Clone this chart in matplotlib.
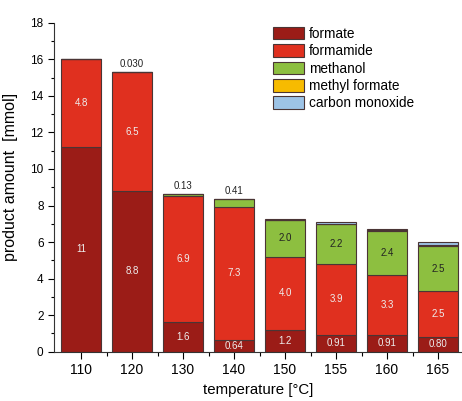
import numpy as np
import matplotlib
matplotlib.use("Agg")
from matplotlib import pyplot as plt

plt.rcParams['font.family'] = ['Liberation Sans', 'DejaVu Sans']

# product amounts in mmol for each reaction temperature
temperatures = ['110', '120', '130', '140', '150', '155', '160', '165']
formate = [11.2, 8.8, 1.6, 0.64, 1.2, 0.91, 0.91, 0.80]
formamide = [4.8, 6.5, 6.9, 7.3, 4.0, 3.9, 3.3, 2.5]
methanol = [0.0, 0.030, 0.13, 0.41, 2.0, 2.2, 2.4, 2.5]
methyl_formate = [0.0, 0.0, 0.0, 0.0, 0.0, 0.0, 0.05, 0.03]
carbon_monoxide = [0.0, 0.0, 0.0, 0.0, 0.07, 0.08, 0.08, 0.15]

formate_labels = ['11', '8.8', '1.6', '0.64', '1.2', '0.91', '0.91', '0.80']
formamide_labels = ['4.8', '6.5', '6.9', '7.3', '4.0', '3.9', '3.3', '2.5']
methanol_labels = ['', '0.030', '0.13', '0.41', '2.0', '2.2', '2.4', '2.5']

series = [
    ('formate', formate, '#9b1c17'),
    ('formamide', formamide, '#e0301f'),
    ('methanol', methanol, '#8dbf40'),
    ('methyl formate', methyl_formate, '#f7bb00'),
    ('carbon monoxide', carbon_monoxide, '#9dc3e6'),
]

fig = plt.figure(figsize=(4.62, 4.01), dpi=100)
ax = fig.add_axes([0.1169, 0.123, 0.8831, 0.820])

x = np.arange(len(temperatures))
bottom = np.zeros(len(temperatures))
for name, vals, color in series:
    vals = np.array(vals)
    ax.bar(x, vals, 0.8, bottom=bottom, color=color,
           edgecolor='#4a3535', linewidth=0.8, label=name)
    bottom = bottom + vals
totals = bottom

# value labels inside the segments (small methanol amounts go on top)
for i in range(len(x)):
    ax.text(x[i], formate[i] / 2, formate_labels[i], ha='center', va='center',
            fontsize=7, color='#eeeeee')
    ax.text(x[i], formate[i] + formamide[i] / 2, formamide_labels[i],
            ha='center', va='center', fontsize=7, color='#eeeeee')
    if methanol[i] >= 1:
        ax.text(x[i], formate[i] + formamide[i] + methanol[i] / 2,
                methanol_labels[i], ha='center', va='center',
                fontsize=7, color='#222222')
    elif methanol_labels[i]:
        ax.text(x[i], totals[i] + 0.15, methanol_labels[i], ha='center',
                va='bottom', fontsize=7, color='#222222')

ax.set_xlim(-0.53, 7.47)
ax.set_ylim(0, 18)
ax.set_xticks(x)
ax.set_xticklabels(temperatures)
ax.set_xticks(x[:-1] + 0.5, minor=True)
ax.set_yticks(np.arange(0, 19, 2))
ax.set_yticks(np.arange(1, 18, 2), minor=True)
ax.tick_params(axis='x', which='major', labelsize=10, length=5, width=0.8)
ax.tick_params(axis='x', which='minor', length=3, width=0.8)
ax.tick_params(axis='y', which='major', labelsize=8.5, length=4, width=0.8)
ax.tick_params(axis='y', which='minor', length=2.5, width=0.8)
for side in ['top', 'right']:
    ax.spines[side].set_visible(False)
for side in ['left', 'bottom']:
    ax.spines[side].set_linewidth(0.8)
    ax.spines[side].set_color('#333333')

ax.set_xlabel('temperature [°C]', fontsize=10.8, labelpad=4)
ax.set_ylabel('product amount  [mmol]', fontsize=11.5)
ax.yaxis.set_label_coords(-0.088, 0.53)

ax.legend(loc='upper left', bbox_to_anchor=(0.537, 0.988), frameon=False,
          fontsize=9.8, borderpad=0, borderaxespad=0, handlelength=2.3,
          handleheight=1.05, labelspacing=0.25, handletextpad=0.35)

fig.savefig('out.png', dpi=100)
